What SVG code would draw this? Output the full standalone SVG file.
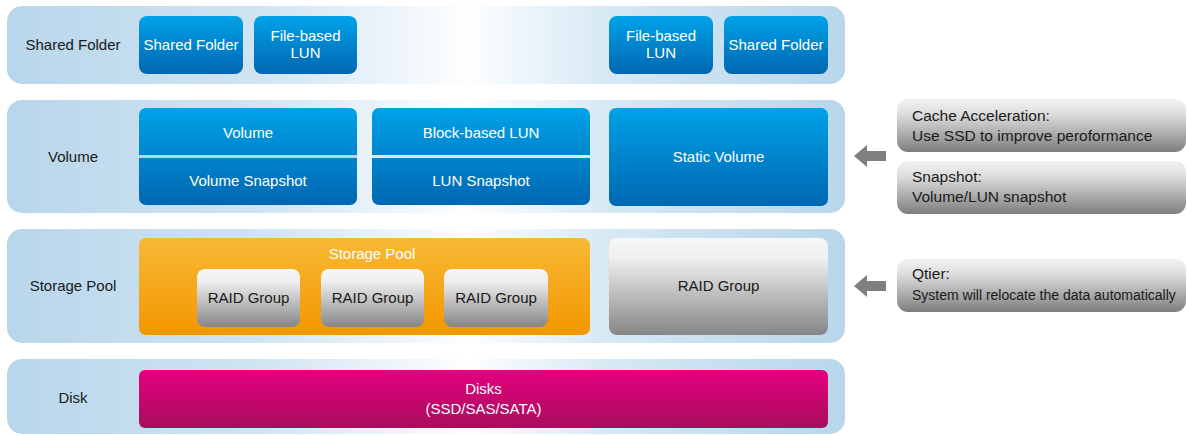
<svg xmlns="http://www.w3.org/2000/svg" width="1187" height="436" viewBox="0 0 1187 436">
<defs>
<linearGradient id="band" gradientUnits="userSpaceOnUse" x1="7" y1="0" x2="845" y2="0">
<stop offset="0" stop-color="#b8d6eb"/>
<stop offset="0.3" stop-color="#d0e4f2"/>
<stop offset="0.55" stop-color="#fdfeff"/>
<stop offset="0.72" stop-color="#d6e8f4"/>
<stop offset="1" stop-color="#b8d6eb"/>
</linearGradient>
<linearGradient id="blue" x1="0" y1="0" x2="0" y2="1">
<stop offset="0" stop-color="#00a2e8"/>
<stop offset="1" stop-color="#0067b1"/>
</linearGradient>
<linearGradient id="orange" x1="0" y1="0" x2="0" y2="1">
<stop offset="0" stop-color="#f8b935"/>
<stop offset="1" stop-color="#f39700"/>
</linearGradient>
<linearGradient id="gray" x1="0" y1="0" x2="0" y2="1">
<stop offset="0" stop-color="#f6f7f7"/>
<stop offset="0.2" stop-color="#f0f0f0"/>
<stop offset="1" stop-color="#868686"/>
</linearGradient>
<linearGradient id="note" x1="0" y1="0" x2="0" y2="1">
<stop offset="0" stop-color="#f2f2f2"/>
<stop offset="0.3" stop-color="#dcdcdc"/>
<stop offset="1" stop-color="#7e7e7e"/>
</linearGradient>
<linearGradient id="pink" x1="0" y1="0" x2="0" y2="1">
<stop offset="0" stop-color="#e5007f"/>
<stop offset="1" stop-color="#a70e5d"/>
</linearGradient>
</defs>
<style>
text{font-family:"Liberation Sans",Arial,sans-serif;font-size:15px}
.band{fill:url(#band)}
.lbl{fill:#1a1a1a;text-anchor:middle}
.wt{fill:#ffffff;text-anchor:middle}
.dk{fill:#1a1a1a;text-anchor:middle}
.nt{fill:#1a1a1a;font-size:15.5px}
.blue{fill:url(#blue)}
.gray{fill:url(#gray)}
.note{fill:url(#note)}
.arrow{fill:#7f7f7f}
</style>

<g id="band-shared-folder">
<rect class="band" x="7" y="6" width="838" height="78" rx="15"/>
<text class="lbl" x="73" y="50">Shared Folder</text>
</g>
<g id="band-volume">
<rect class="band" x="7" y="100" width="838" height="113" rx="15"/>
<text class="lbl" x="73" y="162">Volume</text>
</g>
<g id="band-storage-pool">
<rect class="band" x="7" y="229" width="838" height="114" rx="15"/>
<text class="lbl" x="73" y="291">Storage Pool</text>
</g>
<g id="band-disk">
<rect class="band" x="7" y="359" width="838" height="75" rx="15"/>
<text class="lbl" x="73" y="403">Disk</text>
</g>

<g id="shared-folder-1">
<rect class="blue" x="139" y="16" width="104" height="58" rx="8"/>
<text class="wt" x="191" y="50">Shared Folder</text>
</g>
<g id="file-lun-1">
<rect class="blue" x="254" y="16" width="103" height="58" rx="8"/>
<text class="wt" x="305.5" y="41">File-based</text>
<text class="wt" x="305.5" y="58">LUN</text>
</g>
<g id="file-lun-2">
<rect class="blue" x="609" y="16" width="104" height="58" rx="8"/>
<text class="wt" x="661" y="41">File-based</text>
<text class="wt" x="661" y="58">LUN</text>
</g>
<g id="shared-folder-2">
<rect class="blue" x="724" y="16" width="104" height="58" rx="8"/>
<text class="wt" x="776" y="50">Shared Folder</text>
</g>

<g id="volume">
<rect class="blue" x="139" y="108" width="218" height="97" rx="7"/>
<rect x="139" y="155" width="218" height="3" fill="#b8d6eb"/>
<text class="wt" x="248" y="138">Volume</text>
<text class="wt" x="248" y="186">Volume Snapshot</text>
</g>
<g id="block-lun">
<rect class="blue" x="372" y="108" width="218" height="97" rx="7"/>
<rect x="372" y="155" width="218" height="3" fill="#dbe9f4"/>
<text class="wt" x="481" y="138">Block-based LUN</text>
<text class="wt" x="481" y="186">LUN Snapshot</text>
</g>
<g id="static-volume">
<rect class="blue" x="609" y="108" width="219" height="98" rx="7"/>
<text class="wt" x="718.5" y="162">Static Volume</text>
</g>

<g id="storage-pool">
<rect fill="url(#orange)" x="139" y="238" width="451" height="97" rx="7"/>
<text class="wt" x="372" y="259">Storage Pool</text>
</g>
<g id="raid-1">
<rect class="gray" x="197" y="269" width="103" height="58" rx="8"/>
<text class="dk" x="248.5" y="303">RAID Group</text>
</g>
<g id="raid-2">
<rect class="gray" x="321" y="269" width="103" height="58" rx="8"/>
<text class="dk" x="372.5" y="303">RAID Group</text>
</g>
<g id="raid-3">
<rect class="gray" x="444" y="269" width="104" height="58" rx="8"/>
<text class="dk" x="496" y="303">RAID Group</text>
</g>
<g id="raid-4">
<rect class="gray" x="609" y="238" width="219" height="97" rx="8"/>
<text class="dk" x="718.5" y="291">RAID Group</text>
</g>

<g id="disks">
<rect fill="url(#pink)" x="139" y="370" width="689" height="58" rx="6"/>
<text class="wt" x="483.5" y="394">Disks</text>
<text class="wt" x="483.5" y="414">(SSD/SAS/SATA)</text>
</g>

<g id="note-cache">
<rect class="note" x="897" y="99" width="289" height="53" rx="11"/>
<text class="nt" x="912" y="121">Cache Acceleration:</text>
<text class="nt" x="912" y="141">Use SSD to improve peroformance</text>
</g>
<g id="note-snapshot">
<rect class="note" x="897" y="161" width="289" height="53" rx="11"/>
<text class="nt" x="912" y="182">Snapshot:</text>
<text class="nt" x="912" y="202">Volume/LUN snapshot</text>
</g>
<g id="note-qtier">
<rect class="note" x="897" y="259" width="289" height="53" rx="11"/>
<text class="nt" x="912" y="279">Qtier:</text>
<text class="nt" x="912" y="300" style="font-size:14px">System will relocate the data automatically</text>
</g>

<g id="connectors">
<polygon class="arrow" points="854,156 867,145 867,151 886,151 886,161 867,161 867,167"/>
<polygon class="arrow" points="854,286 867,275 867,281 886,281 886,291 867,291 867,297"/>
</g>
</svg>
